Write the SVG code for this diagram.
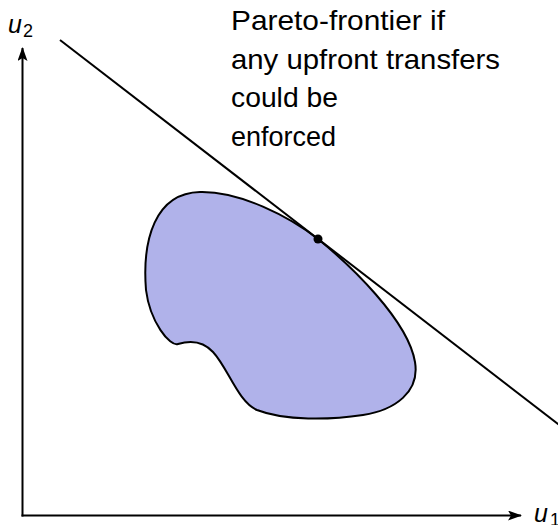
<svg xmlns="http://www.w3.org/2000/svg" width="558" height="525" viewBox="0 0 558 525">
<defs>
<style>
.txt{font-family:"Liberation Sans","DejaVu Sans",sans-serif;font-size:28px;fill:#000}
.math{font-family:"Liberation Sans","DejaVu Sans",sans-serif;font-style:italic;font-size:25px;fill:#000}
.sub{font-family:"Liberation Sans","DejaVu Sans",sans-serif;font-size:18px;fill:#000}
.ln{stroke:#000;stroke-width:2;fill:none}
</style>
<marker id="arr" viewBox="0 0 14 10" refX="13" refY="5" markerWidth="14" markerHeight="10" markerUnits="userSpaceOnUse" orient="auto">
<path d="M0,0 L14,5 L0,10 L3,5 Z" fill="#000"/>
</marker>
</defs>
<rect width="558" height="525" fill="#fff"/>
<g id="region">
<path d="M318,239 C350,265 408,320 415,362 C420,392 395,410 363,415 C330,420 285,421 257,410 C238,402 228,368 213,352 C202,340 188,341 178,344 C170,347 150,322 146,290 C142,240 155,193 200,192 C240,191 290,217 318,239 Z" fill="#b0b2ea" stroke="#000" stroke-width="2"/>
</g>
<g id="connectors">
<line class="ln" x1="22.5" y1="516.5" x2="22.5" y2="48" marker-end="url(#arr)"/>
<line class="ln" x1="21.5" y1="515.5" x2="521" y2="515.5" marker-end="url(#arr)"/>
<line class="ln" x1="60" y1="40" x2="572" y2="434.8"/>
</g>
<g id="point">
<circle cx="318" cy="239" r="4.5" fill="#000"/>
</g>
<g id="label-u2">
<text class="math" x="8" y="33">u</text><text class="sub" x="23" y="37">2</text>
</g>
<g id="label-u1">
<text class="math" x="534" y="522">u</text><text class="sub" x="550" y="526">1</text>
</g>
<g id="label-frontier">
<text class="txt" x="231" y="29.5" textLength="214" lengthAdjust="spacingAndGlyphs">Pareto-frontier if</text>
<text class="txt" x="231" y="68.5" textLength="269" lengthAdjust="spacingAndGlyphs">any upfront transfers</text>
<text class="txt" x="231" y="107" textLength="107" lengthAdjust="spacingAndGlyphs">could be</text>
<text class="txt" x="231" y="146" textLength="105" lengthAdjust="spacingAndGlyphs">enforced</text>
</g>
</svg>
